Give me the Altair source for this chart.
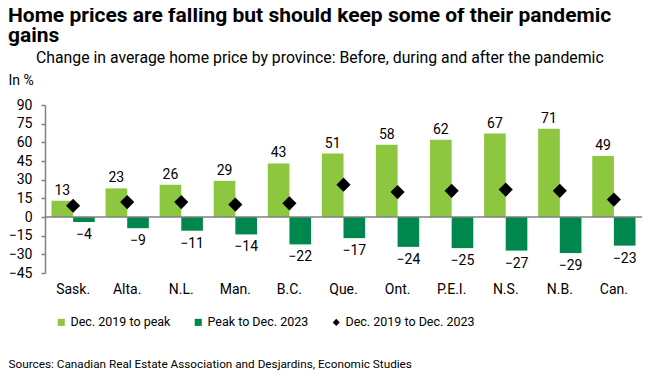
import altair as alt
import pandas as pd

provinces = ["Sask.", "Alta.", "N.L.", "Man.", "B.C.", "Que.", "Ont.", "P.E.I.", "N.S.", "N.B.", "Can."]
to_peak = [13, 23, 26, 29, 43, 51, 58, 62, 67, 71, 49]
peak_to_dec23 = [-4, -9, -11, -14, -22, -17, -24, -25, -27, -29, -23]
dec19_to_dec23 = [9, 12, 12, 10, 11, 26, 20, 21, 22, 21, 14]

series = ["Dec. 2019 to peak", "Peak to Dec. 2023", "Dec. 2019 to Dec. 2023"]
colors = ["#8DC63F", "#00874E", "#000000"]
shapes = ["square", "square", "diamond"]
y_ticks = [-45, -30, -15, 0, 15, 30, 45, 60, 75, 90]

title_lines = ["Home prices are falling but should keep some of their pandemic", "gains"]
subtitle = "Change in average home price by province: Before, during and after the pandemic"
source = "Sources: Canadian Real Estate Association and Desjardins, Economic Studies"

FONT = "Roboto"

bars = pd.DataFrame(
    [{"prov": p, "series": series[0], "value": v} for p, v in zip(provinces, to_peak)]
    + [{"prov": p, "series": series[1], "value": v} for p, v in zip(provinces, peak_to_dec23)]
)
pts = pd.DataFrame({"prov": provinces, "series": series[2], "value": dec19_to_dec23})
zero = pd.DataFrame({"value": [0]})
sub_df = pd.DataFrame({"t": [subtitle]})

color_scale = alt.Scale(domain=series, range=colors)
shape_scale = alt.Scale(domain=series, range=shapes)

x_enc = alt.X(
    "prov:N", sort=provinces,
    scale=alt.Scale(paddingInner=0.2, paddingOuter=0.12),
    axis=alt.Axis(
        title=source,
        titleX=-37, titleY=94, titleAlign="left", titleAnchor="start", titleBaseline="alphabetic",
        titleFont=FONT, titleFontSize=11.75, titleFontWeight="normal", titleColor="#000",
        labelAngle=0, labelFont=FONT, labelFontSize=14, labelColor="#000",
        labelPadding=9, ticks=False, domain=False,
    ),
)
y_enc = alt.Y(
    "value:Q",
    scale=alt.Scale(domain=[-45, 90], nice=False, zero=False),
    axis=alt.Axis(
        values=y_ticks, grid=False, labelOverlap=False, tickCount=10,
        title="In %", titleAngle=0, titleX=-37, titleY=-21, titleAlign="left",
        titleBaseline="alphabetic", titleFont=FONT, titleFontSize=14, titleFontWeight="normal",
        titleColor="#000",
        labelFont=FONT, labelFontSize=14, labelColor="#000", labelPadding=9,
        tickSize=4, tickColor="#808080", domainColor="#808080", domainWidth=1.5, tickWidth=1.5,
    ),
)
xoff = alt.XOffset("series:N", sort=series[:2], scale=alt.Scale(paddingInner=0, domain=series[:2]))

bar_layer = alt.Chart(bars).mark_bar().encode(
    x=x_enc, y=y_enc, xOffset=xoff,
    color=alt.Color("series:N", scale=color_scale, legend=alt.Legend(
        title=None, orient="none", legendX=10, legendY=211, direction="horizontal",
        labelFont=FONT, labelFontSize=12.5, labelColor="#000", symbolSize=50,
        columnPadding=21, symbolOffset=0, labelOffset=3, symbolStrokeWidth=0, padding=0,
    )),
)

pos_text = alt.Chart(bars).transform_filter("datum.value > 0").mark_text(
    baseline="alphabetic", dy=-6, font=FONT, fontSize=14, color="#000"
).encode(x=x_enc, y=y_enc, xOffset=xoff, text="value:Q")

neg_text = alt.Chart(bars).transform_filter("datum.value < 0").mark_text(
    baseline="top", dy=6, font=FONT, fontSize=14, color="#000"
).encode(x=x_enc, y=y_enc, xOffset=xoff, text="value:Q")

zero_rule = alt.Chart(zero).mark_rule(color="#808080", strokeWidth=1.5).encode(y=y_enc)

diamonds = alt.Chart(pts).mark_point(filled=True, size=200, opacity=1).encode(
    x=x_enc, y=y_enc,
    color=alt.Color("series:N", scale=color_scale),
    shape=alt.Shape("series:N", scale=shape_scale),
)

sub_text = alt.Chart(sub_df).mark_text(
    align="left", baseline="alphabetic", font=FONT, fontSize=15.8, color="#000"
).encode(x=alt.value(-9), y=alt.value(-42), text="t:N")

chart = alt.layer(bar_layer, zero_rule, pos_text, neg_text, diamonds, sub_text).properties(
    width=597, height=168,
    title=alt.Title(
        text=title_lines,
        anchor="start", frame="group", dx=-37, offset=4,
        font=FONT, fontSize=21, fontWeight="bold", color="#000", lineHeight=20,
    ),
    padding={"left": 37, "top": 97, "right": 0, "bottom": 110},
    autosize=alt.AutoSizeParams(type="none"),
).configure_view(stroke=None)

chart.save("out.html", embed_options={"renderer": "svg", "actions": False})
